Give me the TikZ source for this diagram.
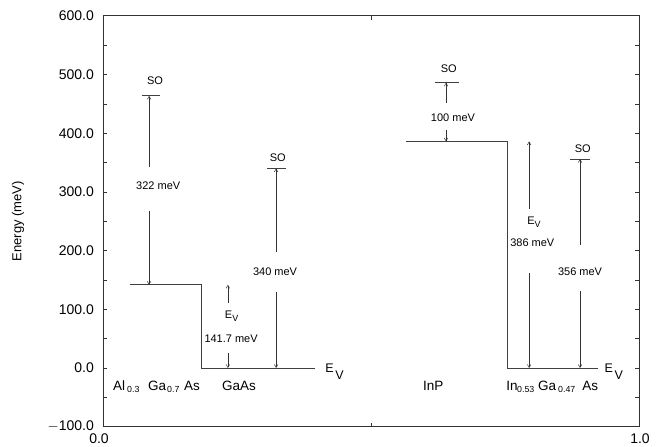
\documentclass[tikz,border=0pt]{standalone}
\usepackage{fontspec}
\setmainfont{Liberation Sans}
\usetikzlibrary{arrows.meta}
\newcommand{\fs}[1]{\fontsize{#1}{#1}\selectfont}
\newcommand{\EvBig}{E\hspace{1.5pt}\raisebox{-7.5pt}{V}}
\newcommand{\EvSmall}{E\raisebox{-3.5pt}{\fs{9}V}}
\begin{document}
\begin{tikzpicture}[x=1pt,y=1pt,
  lvl/.style={line width=0.8pt, draw=black!75},
  arr/.style={line width=0.5pt, draw=black!80, -{Straight Barb[length=3pt,width=3.5pt]}},
  ann/.style={font=\fs{11}, inner sep=0pt},
  big/.style={font=\fs{12.5}, inner sep=0pt},
  mat/.style={font=\fs{13.5}, inner sep=0pt, anchor=base west},
  matsub/.style={font=\fs{8.8}, inner sep=0pt, anchor=base west},
  ticklab/.style={font=\fs{14}, inner sep=0pt},
  frame/.style={line width=0.7pt, draw=black!80},
  tk/.style={line width=0.5pt, draw=black!80}]
\useasboundingbox (0,0) rectangle (667,447);
\fill[white] (0,0) rectangle (667,447);
\begin{scope}[shift={(103pt,79pt)}, x=536pt, y=0.587pt]
  % frame
  \coordinate (bl) at (0,-100);
  \coordinate (tr) at (1,600);
  \draw[frame] (bl) rectangle (tr);
  % ticks
  \foreach \e in {-50,0,...,550} {
    \draw[tk] (0,\e) -- ++(4pt,0);
    \draw[tk] (1,\e) -- ++(-4pt,0);
  }
  \draw[tk] (0.5,-100) -- ++(0,4pt);
  \draw[tk] (0.5,600) -- ++(0,-4pt);
  % tick labels
  \foreach \e/\t in {600/600.0,500/500.0,400/400.0,300/300.0,200/200.0,100/100.0,0/0.0,-100/{$-$100.0}} {
    \node[ticklab, anchor=east] (yl\e) at ([xshift=-9pt]0,\e) {\t};
  }
  \node[ticklab] (xl0) at ([xshift=-4pt,yshift=-12pt]0,-100) {0.0};
  \node[ticklab] (xl1) at ([xshift=1pt,yshift=-12pt]1,-100) {1.0};
  \node[font=\fs{13}, inner sep=0pt, rotate=90] (ylab) at ([xshift=-85pt]0,250) {Energy (meV)};

  % ---------- AlGaAs / GaAs ----------
  \coordinate (a1) at (0.050,141.7);
  \coordinate (a2) at (0.183,141.7);
  \coordinate (g1) at (0.183,0);
  \coordinate (g2) at (0.396,0);
  \draw[lvl] (a1) -- (a2) -- (g1) -- (g2);
  \node[big] (evL) at (0.432,-6) {\EvBig};

  % AlGaAs SO
  \coordinate (so1a) at (0.072,463.7);
  \coordinate (so1b) at (0.107,463.7);
  \draw[lvl] (so1a) -- (so1b);
  \node[ann] (so1t) at (0.097,489) {SO};
  \coordinate (s1top) at (0.086,463.7);
  \coordinate (s1bot) at (0.086,141.7);
  \coordinate (s1u) at (0.086,342);
  \coordinate (s1d) at (0.086,267);
  \node[ann] (l322) at (0.103,310) {322 meV};
  \draw[arr] (s1u) -- (s1top);
  \draw[arr] (s1d) -- (s1bot);

  % GaAs SO
  \coordinate (so2a) at (0.306,340);
  \coordinate (so2b) at (0.341,340);
  \draw[lvl] (so2a) -- (so2b);
  \node[ann] (so2t) at (0.326,358) {SO};
  \coordinate (s2top) at (0.323,340);
  \coordinate (s2bot) at (0.323,0);
  \coordinate (s2u) at (0.323,198);
  \coordinate (s2d) at (0.323,129);
  \node[ann] (l340) at (0.321,164) {340 meV};
  \draw[arr] (s2u) -- (s2top);
  \draw[arr] (s2d) -- (s2bot);

  % Ev offset AlGaAs/GaAs
  \coordinate (e1top) at (0.233,141.7);
  \coordinate (e1bot) at (0.233,0);
  \coordinate (e1u) at (0.233,111);
  \coordinate (e1d) at (0.233,26);
  \node[ann] (e1lab) at (0.240,88) {\EvSmall};
  \node[ann] (l1417) at (0.239,49) {141.7 meV};
  \draw[arr] (e1u) -- (e1top);
  \draw[arr] (e1d) -- (e1bot);

  % ---------- InP / InGaAs ----------
  \coordinate (p1) at (0.566,386);
  \coordinate (p2) at (0.755,386);
  \coordinate (i1) at (0.755,0);
  \coordinate (i2) at (0.923,0);
  \draw[lvl] (p1) -- (p2) -- (i1) -- (i2);
  \node[big] (evR) at (0.953,-6) {\EvBig};

  % InP SO
  \coordinate (so3a) at (0.619,486);
  \coordinate (so3b) at (0.664,486);
  \draw[lvl] (so3a) -- (so3b);
  \node[ann] (so3t) at (0.645,509) {SO};
  \coordinate (s3top) at (0.640,486);
  \coordinate (s3bot) at (0.640,386);
  \coordinate (s3u) at (0.640,451);
  \coordinate (s3d) at (0.640,405);
  \node[ann] (l100) at (0.653,426) {100 meV};
  \draw[arr] (s3u) -- (s3top);
  \draw[arr] (s3d) -- (s3bot);

  % Ev offset InP/InGaAs
  \coordinate (e2top) at (0.795,386);
  \coordinate (e2bot) at (0.795,0);
  \coordinate (e2u) at (0.795,271);
  \coordinate (e2d) at (0.795,162);
  \node[ann] (e2lab) at (0.804,248) {\EvSmall};
  \node[ann] (l386) at (0.801,213) {386 meV};
  \draw[arr] (e2u) -- (e2top);
  \draw[arr] (e2d) -- (e2bot);

  % InGaAs SO
  \coordinate (so4a) at (0.871,356);
  \coordinate (so4b) at (0.909,356);
  \draw[lvl] (so4a) -- (so4b);
  \node[ann] (so4t) at (0.895,373) {SO};
  \coordinate (s4top) at (0.890,356);
  \coordinate (s4bot) at (0.890,0);
  \coordinate (s4u) at (0.890,210);
  \coordinate (s4d) at (0.890,131);
  \node[ann] (l356) at (0.890,164) {356 meV};
  \draw[arr] (s4u) -- (s4top);
  \draw[arr] (s4d) -- (s4bot);

  % ---------- material labels ----------
  \node[mat] (mAl) at (0.0187,-37.5) {Al};
  \node[matsub] (mAlx) at (0.0448,-41) {0.3};
  \node[mat] (mGa) at (0.084,-37.5) {Ga};
  \node[matsub] (mGax) at (0.1194,-41) {0.7};
  \node[mat] (mAs) at (0.151,-37.5) {As};
  \node[mat] (mGaAs) at (0.222,-37.5) {GaAs};
  \node[mat] (mInP) at (0.597,-37.5) {InP};
  \node[mat] (mIn) at (0.752,-37.5) {In};
  \node[matsub] (mInx) at (0.7724,-41) {0.53};
  \node[mat] (mGa2) at (0.8116,-37.5) {Ga};
  \node[matsub] (mGa2x) at (0.8489,-41) {0.47};
  \node[mat] (mAs2) at (0.894,-37.5) {As};
\end{scope}
\end{tikzpicture}
\end{document}
